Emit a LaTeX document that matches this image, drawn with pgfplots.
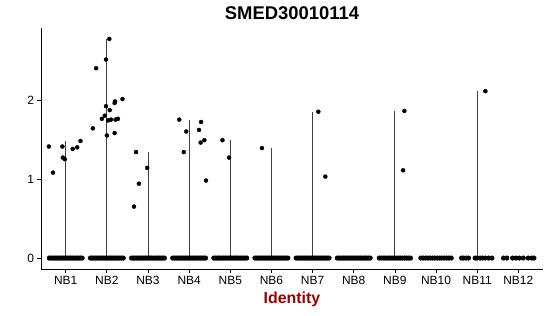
\documentclass[border=0pt]{standalone}
\usepackage{pgfplots}
\pgfplotsset{compat=1.18}
\usepackage{fontspec}
\setmainfont{Liberation Sans}
\definecolor{idred}{RGB}{153,0,0}
\begin{document}
\begin{tikzpicture}
\begin{axis}[
 scale only axis, width=502bp, height=241bp,
 xmin=0.4, xmax=12.6, ymin=-0.1385, ymax=2.9085,
 axis x line*=bottom, axis y line*=left,
 axis line style={line width=0.8bp, black, -},
 xtick={1,2,3,4,5,6,7,8,9,10,11,12},
 xticklabels={NB1,NB2,NB3,NB4,NB5,NB6,NB7,NB8,NB9,NB10,NB11,NB12},
 ytick={0,1,2},
 tick align=outside, major tick length=3.5bp,
 tick style={line width=0.7bp, black},
 ticklabel style={font=\fontsize{12}{14}\selectfont},
 /pgf/number format/assume math mode=true,
 clip=false,
]
% violins (thin)
\addplot[ycomb, black!75, line width=0.8bp, no marks] coordinates {
 (1,1.48) (2,2.77) (3,1.34) (4,1.75) (5,1.49) (6,1.39) (7,1.85) (9,1.86) (11,2.11)};
% zero-valued cells
\addplot[only marks, mark=*, mark size=2.3bp, black] coordinates {
(0.60,0) (0.64,0) (0.68,0) (0.72,0) (0.76,0) (0.80,0) (0.84,0) (0.88,0) (0.92,0) (0.96,0) (1.00,0) (1.04,0) (1.08,0) (1.12,0) (1.16,0) (1.20,0) (1.24,0) (1.28,0) (1.32,0) (1.36,0) (1.40,0)
(1.60,0) (1.64,0) (1.68,0) (1.72,0) (1.76,0) (1.80,0) (1.84,0) (1.88,0) (1.92,0) (1.96,0) (2.00,0) (2.04,0) (2.08,0) (2.12,0) (2.16,0) (2.20,0) (2.24,0) (2.28,0) (2.32,0) (2.36,0) (2.40,0)
(2.60,0) (2.64,0) (2.68,0) (2.72,0) (2.76,0) (2.80,0) (2.84,0) (2.88,0) (2.92,0) (2.96,0) (3.00,0) (3.04,0) (3.08,0) (3.12,0) (3.16,0) (3.20,0) (3.24,0) (3.28,0) (3.32,0) (3.36,0) (3.40,0)
(3.60,0) (3.64,0) (3.68,0) (3.72,0) (3.76,0) (3.80,0) (3.84,0) (3.88,0) (3.92,0) (3.96,0) (4.00,0) (4.04,0) (4.08,0) (4.12,0) (4.16,0) (4.20,0) (4.24,0) (4.28,0) (4.32,0) (4.36,0) (4.40,0)
(4.60,0) (4.64,0) (4.68,0) (4.72,0) (4.76,0) (4.80,0) (4.84,0) (4.88,0) (4.92,0) (4.96,0) (5.00,0) (5.04,0) (5.08,0) (5.12,0) (5.16,0) (5.20,0) (5.24,0) (5.28,0) (5.32,0) (5.36,0) (5.40,0)
(5.60,0) (5.64,0) (5.68,0) (5.72,0) (5.76,0) (5.80,0) (5.84,0) (5.88,0) (5.92,0) (5.96,0) (6.00,0) (6.04,0) (6.08,0) (6.12,0) (6.16,0) (6.20,0) (6.24,0) (6.28,0) (6.32,0) (6.36,0) (6.40,0)
(6.60,0) (6.64,0) (6.68,0) (6.72,0) (6.76,0) (6.80,0) (6.84,0) (6.88,0) (6.92,0) (6.96,0) (7.00,0) (7.04,0) (7.08,0) (7.12,0) (7.16,0) (7.20,0) (7.24,0) (7.28,0) (7.32,0) (7.36,0) (7.40,0)
(7.60,0) (7.64,0) (7.68,0) (7.72,0) (7.76,0) (7.80,0) (7.84,0) (7.88,0) (7.92,0) (7.96,0) (8.00,0) (8.04,0) (8.08,0) (8.12,0) (8.16,0) (8.20,0) (8.24,0) (8.28,0) (8.32,0) (8.36,0) (8.40,0)
(8.62,0) (8.67,0) (8.72,0) (8.76,0) (8.81,0) (8.86,0) (8.90,0) (8.95,0) (9.00,0) (9.05,0) (9.10,0) (9.14,0) (9.19,0) (9.24,0) (9.28,0) (9.33,0) (9.38,0)
(9.63,0) (9.69,0) (9.75,0) (9.80,0) (9.86,0) (9.92,0) (9.97,0) (10.03,0) (10.09,0) (10.14,0) (10.20,0) (10.26,0) (10.31,0) (10.37,0)
(10.62,0) (10.67,0) (10.73,0) (10.79,0) (10.95,0) (11.00,0) (11.07,0) (11.13,0) (11.20,0) (11.28,0) (11.36,0)
(11.64,0) (11.72,0) (11.86,0) (11.94,0) (12.02,0) (12.12,0) (12.24,0) (12.33,0) (12.38,0)
};
% expressing cells
\addplot[only marks, mark=*, mark size=2bp, black] coordinates {
(0.59,1.41) (0.69,1.08) (0.92,1.41) (0.93,1.27) (0.98,1.25) (1.17,1.38) (1.28,1.40) (1.36,1.48)
(1.66,1.64) (1.74,2.40) (1.88,1.76) (1.95,1.80) (1.98,1.92) (1.98,2.51) (2.00,1.55) (2.06,2.77)
(2.03,1.74) (2.07,1.87) (2.10,1.75) (2.19,1.96) (2.20,1.98) (2.19,1.58) (2.21,1.75) (2.27,1.76) (2.38,2.01)
(2.66,0.65) (2.71,1.34) (2.78,0.94) (2.98,1.14)
(3.76,1.75) (3.87,1.34) (3.93,1.60) (4.24,1.62) (4.29,1.72) (4.28,1.46) (4.37,1.49) (4.41,0.98)
(4.81,1.49) (4.97,1.27)
(5.77,1.39)
(7.14,1.85) (7.31,1.03)
(9.23,1.86) (9.20,1.11)
(11.20,2.11)
};
\end{axis}
\node[anchor=base, font=\bfseries\fontsize{18.5}{20}\selectfont] at (251bp,249.7bp) {SMED30010114};
\node[anchor=base, text=idred, font=\bfseries\fontsize{16}{18}\selectfont] at (251bp,-34.3bp) {Identity};
\path[use as bounding box] (-41bp,-47bp) rectangle (509bp,269bp);
\end{tikzpicture}
\end{document}
